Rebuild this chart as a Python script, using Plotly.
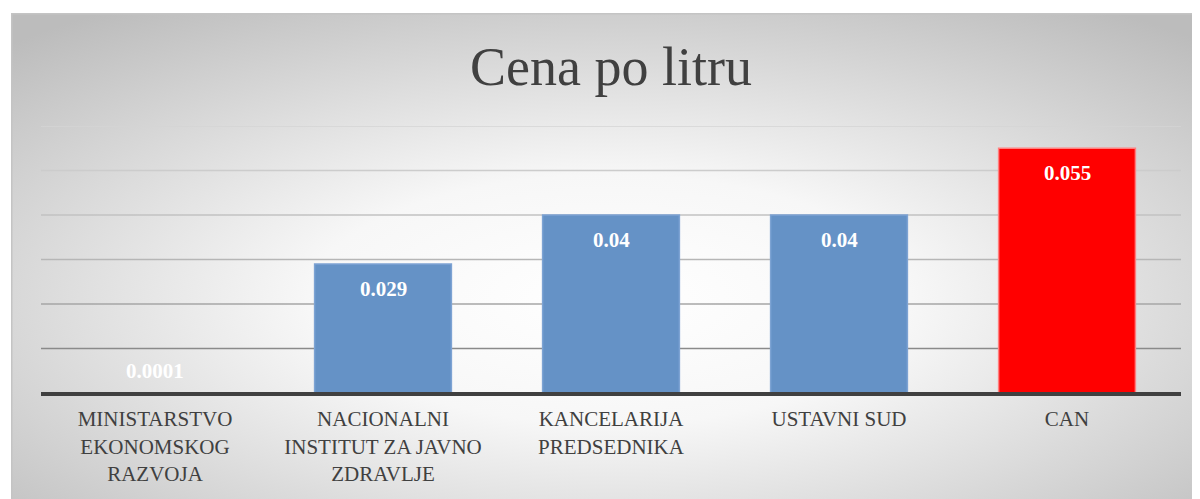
import base64
import plotly.graph_objects as go

# ---- data ----
categories = [
    "MINISTARSTVO<br>EKONOMSKOG<br>RAZVOJA",
    "NACIONALNI<br>INSTITUT ZA JAVNO<br>ZDRAVLJE",
    "KANCELARIJA<br>PREDSEDNIKA",
    "USTAVNI SUD",
    "CAN",
]
values = [0.0001, 0.029, 0.04, 0.04, 0.055]
value_labels = ["0.0001", "0.029", "0.04", "0.04", "0.055"]
bar_colors = ["#6592C6", "#6592C6", "#6592C6", "#6592C6", "#FF0000"]
bar_line_colors = ["#7DA3D3", "#7DA3D3", "#7DA3D3", "#7DA3D3", "#FF8080"]
y_ticks = [0.01, 0.02, 0.03, 0.04, 0.05, 0.06]
grid_colors = ["#8a8a8a", "#a6a6a6", "#b6b6b6", "#c2c2c2", "#cccccc", "#d4d4d4"]

W, H = 1200, 499
# page has an 8px body margin, so figure coords = screen coords - 8
L, R, T, B = 33, 27, 118, 114
plot_w = W - L - R
plot_h = H - T - B

FONT = "Palatino Linotype, Book Antiqua, Palatino, Liberation Serif, serif"

# ---- radial gradient background for the chart area ----
bx0, by0, bx1, by1 = 3, 5, 1200, 499
bw, bh = bx1 - bx0, by1 - by0
svg = f'''<svg xmlns="http://www.w3.org/2000/svg" width="{bw}" height="{bh}" viewBox="0 0 {bw} {bh}" preserveAspectRatio="none">
<defs><radialGradient id="g" cx="0.5" cy="0.58" r="0.72" fx="0.5" fy="0.58">
<stop offset="0" stop-color="#ffffff"/><stop offset="0.35" stop-color="#f7f7f7"/><stop offset="1" stop-color="#bcbcbc"/>
</radialGradient></defs>
<rect x="0" y="0" width="{bw}" height="{bh}" fill="url(#g)"/>
<line x1="0" y1="0.75" x2="{bw}" y2="0.75" stroke="#c4c4c4" stroke-width="1.5"/>
<line x1="0.75" y1="0" x2="0.75" y2="{bh}" stroke="#c4c4c4" stroke-width="1.5"/>
</svg>'''
src = "data:image/svg+xml;base64," + base64.b64encode(svg.encode()).decode()

fig = go.Figure()
fig.add_trace(go.Bar(
    x=categories,
    y=values,
    marker=dict(color=bar_colors,
                line=dict(color=bar_line_colors,
                          width=[1.5 if v > 0.001 else 0 for v in values])),
    hoverinfo="x+y",
))

# data labels
for cat, v, lab in zip(categories, values, value_labels):
    inside = v > 0.005
    fig.add_annotation(
        x=cat, y=v, text=f"<b>{lab}</b>", showarrow=False,
        yanchor="middle", yshift=-25 if inside else 22,
        font=dict(family=FONT, size=21, color="#ffffff"),
    )

# gridlines with graded colours
for t, c in zip(y_ticks, grid_colors):
    fig.add_shape(type="line", xref="paper", x0=0, x1=1, yref="y", y0=t, y1=t,
                  line=dict(color=c, width=1.6), layer="below")

# category axis baseline (drawn above the bars, like the original; paper refs -> not clipped)
fig.add_shape(type="line", xref="paper", x0=0, x1=1, yref="paper",
              ysizemode="pixel", yanchor=0, y0=-1, y1=-1,
              line=dict(color="#404040", width=4.2), layer="above")

fig.add_layout_image(
    source=src, xref="paper", yref="paper",
    x=(bx0 - L) / plot_w, y=(H - B - by0) / plot_h,
    sizex=bw / plot_w, sizey=bh / plot_h,
    xanchor="left", yanchor="top", sizing="stretch", layer="below",
)

fig.update_layout(
    width=W, height=H,
    margin=dict(l=L, r=R, t=T, b=B, pad=0),
    paper_bgcolor="#ffffff",
    plot_bgcolor="rgba(0,0,0,0)",
    bargap=0.4,
    showlegend=False,
    title=dict(text="Cena po litru", x=603 / W, xanchor="center",
               y=1 - 58 / H, yanchor="middle", yref="container",
               font=dict(family=FONT, size=54, color="#404040")),
    xaxis=dict(showline=False,
               ticks="outside", ticklen=7, tickcolor="rgba(0,0,0,0)",
               tickfont=dict(family=FONT, size=21, color="#404040"),
               showgrid=False, zeroline=False, fixedrange=True),
    yaxis=dict(range=[0, 0.06], showgrid=False, zeroline=False,
               showticklabels=False, tickvals=y_ticks, fixedrange=True),
    font=dict(family=FONT),
)

fig.write_html("out.html")
